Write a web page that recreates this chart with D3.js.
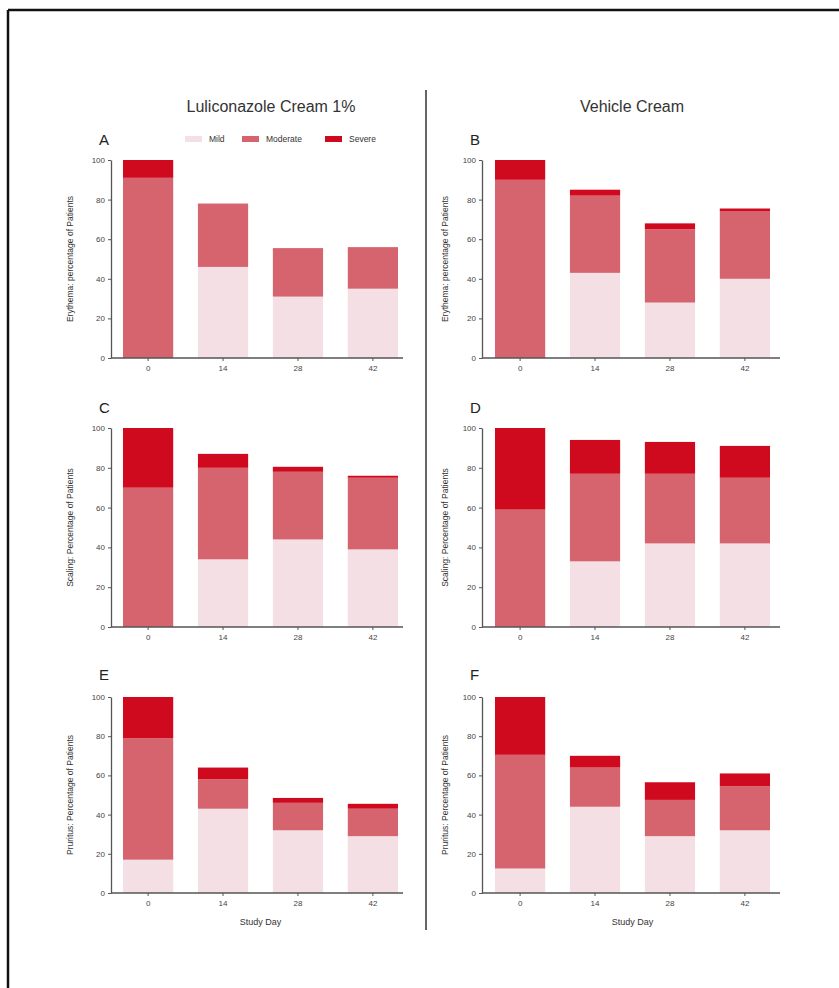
<!DOCTYPE html>
<html lang="en">
<head>
    <meta charset="UTF-8">
    <title>Luliconazole vs Vehicle</title>
    <script src="https://d3js.org/d3.v7.min.js"></script>
    <style>
        body { margin: 0; background: #fff; font-family: "Liberation Sans", Arial, sans-serif; }
        .axis path, .axis line { stroke: #555; }
        .axis text { font-size: 8px; fill: #444; }
        .ylabel { font-size: 8.5px; fill: #333; }
        .letter { font-size: 15px; fill: #222; }
        .title { font-size: 16px; fill: #333; }
        .legend text { font-size: 8.5px; fill: #333; }
    </style>
</head>
<body>
<svg width="839" height="988"></svg>

<script>
    // study days on the x axis
    const days = ["0", "14", "28", "42"];
    const levels = ["Mild", "Moderate", "Severe"];
    const colors = ["#f4dfe4", "#d5646f", "#cf0a1f"];

    // each row: [mild, moderate, severe] percentages per study day
    const erythemaLuli = [[0, 91, 9], [46, 32, 0], [31, 24.5, 0], [35, 21, 0]];
    const erythemaVeh = [[0, 90, 10], [43, 39, 3], [28, 37, 3], [40, 34, 1.5]];
    const scalingLuli = [[0, 70, 30], [34, 46, 7], [44, 34, 2.5], [39, 36, 1]];
    const scalingVeh = [[0, 59, 41], [33, 44, 17], [42, 35, 16], [42, 33, 16]];
    const pruritusLuli = [[17, 62, 21], [43, 15, 6], [32, 14, 2.5], [29, 14, 2.5]];
    const pruritusVeh = [[12.5, 58, 29.5], [44, 20, 6], [29, 18.5, 9], [32, 22.5, 6.5]];

    const svg = d3.select("svg");

    // outer frame (only top and left visible)
    svg.append("line").attr("x1", 8).attr("y1", 10).attr("x2", 839).attr("y2", 10)
        .attr("stroke", "#111").attr("stroke-width", 2.5);
    svg.append("line").attr("x1", 8).attr("y1", 10).attr("x2", 8).attr("y2", 988)
        .attr("stroke", "#111").attr("stroke-width", 2.5);

    // divider between treatment columns
    svg.append("line").attr("x1", 426).attr("y1", 90).attr("x2", 426).attr("y2", 930)
        .attr("stroke", "#333").attr("stroke-width", 1.5);

    svg.append("text").attr("class", "title").attr("x", 271).attr("y", 112)
        .attr("text-anchor", "middle").text("Luliconazole Cream 1%");
    svg.append("text").attr("class", "title").attr("x", 632).attr("y", 112)
        .attr("text-anchor", "middle").text("Vehicle Cream");

    const cols = [
        { axisX: 111, band: [123, 398], end: 403, labelX: 70, letterX: 99 },
        { axisX: 482, band: [495, 770], end: 780, labelX: 445, letterX: 470 }
    ];
    const rows = [
        { y0: 358, y1: 160, letterY: 145 },
        { y0: 627, y1: 428, letterY: 413 },
        { y0: 893, y1: 697, letterY: 680 }
    ];

    const panels = [
        { letter: "A", data: erythemaLuli, label: "Erythema: percentage of Patients", c: 0, r: 0 },
        { letter: "B", data: erythemaVeh, label: "Erythema: percentage of Patients", c: 1, r: 0 },
        { letter: "C", data: scalingLuli, label: "Scaling: Percentage of Patients", c: 0, r: 1 },
        { letter: "D", data: scalingVeh, label: "Scaling: Percentage of Patients", c: 1, r: 1 },
        { letter: "E", data: pruritusLuli, label: "Pruritus: Percentage of Patients", c: 0, r: 2 },
        { letter: "F", data: pruritusVeh, label: "Pruritus: Percentage of Patients", c: 1, r: 2 }
    ];

    panels.forEach(p => drawPanel(p));

    function drawPanel(p) {
        const col = cols[p.c], row = rows[p.r];
        const x = d3.scaleBand().domain(days).range(col.band).paddingInner(0.33);
        const y = d3.scaleLinear().domain([0, 100]).range([row.y0, row.y1]);

        const g = svg.append("g");

        const stacked = d3.stack().keys([0, 1, 2])(p.data);
        g.selectAll(".layer")
          .data(stacked)
          .enter().append("g")
            .attr("fill", (d, i) => colors[i])
          .selectAll("rect")
          .data(d => d)
          .enter().append("rect")
            .attr("x", (d, i) => x(days[i]))
            .attr("width", x.bandwidth())
            .attr("y", d => y(d[1]))
            .attr("height", d => y(d[0]) - y(d[1]));

        // y axis
        g.append("g").attr("class", "axis")
            .attr("transform", `translate(${col.axisX},0)`)
            .call(d3.axisLeft(y).tickValues([0, 20, 40, 60, 80, 100]).tickSize(3).tickSizeOuter(0).tickPadding(3))
            .select(".domain").attr("stroke-width", 1.3);

        // x axis
        const xa = g.append("g").attr("class", "axis")
            .attr("transform", `translate(0,${row.y0})`)
            .call(d3.axisBottom(x).tickSize(3).tickSizeOuter(0).tickPadding(4));
        xa.select(".domain").remove();
        xa.append("line").attr("x1", col.axisX).attr("x2", col.end)
            .attr("stroke", "#555").attr("stroke-width", 1.3);

        // y label
        g.append("text").attr("class", "ylabel")
            .attr("transform", `translate(${col.labelX},${(row.y0 + row.y1) / 2}) rotate(-90)`)
            .attr("text-anchor", "middle").attr("dy", "0.35em")
            .text(p.label);

        g.append("text").attr("class", "letter")
            .attr("x", col.letterX).attr("y", row.letterY).text(p.letter);

        if (p.r === 2) {
            g.append("text").attr("class", "ylabel")
                .attr("x", (col.band[0] + col.band[1]) / 2).attr("y", row.y0 + 32)
                .attr("text-anchor", "middle").style("font-size", "9px")
                .text("Study Day");
        }
    }

    // legend
    const legendX = [185, 242, 325];
    const legend = svg.append("g").attr("class", "legend");
    levels.forEach((lv, i) => {
        legend.append("rect").attr("x", legendX[i]).attr("y", 136)
            .attr("width", 17).attr("height", 6).attr("fill", colors[i]);
        legend.append("text").attr("x", legendX[i] + 24).attr("y", 142).text(lv);
    });
</script>

</body>
</html>
